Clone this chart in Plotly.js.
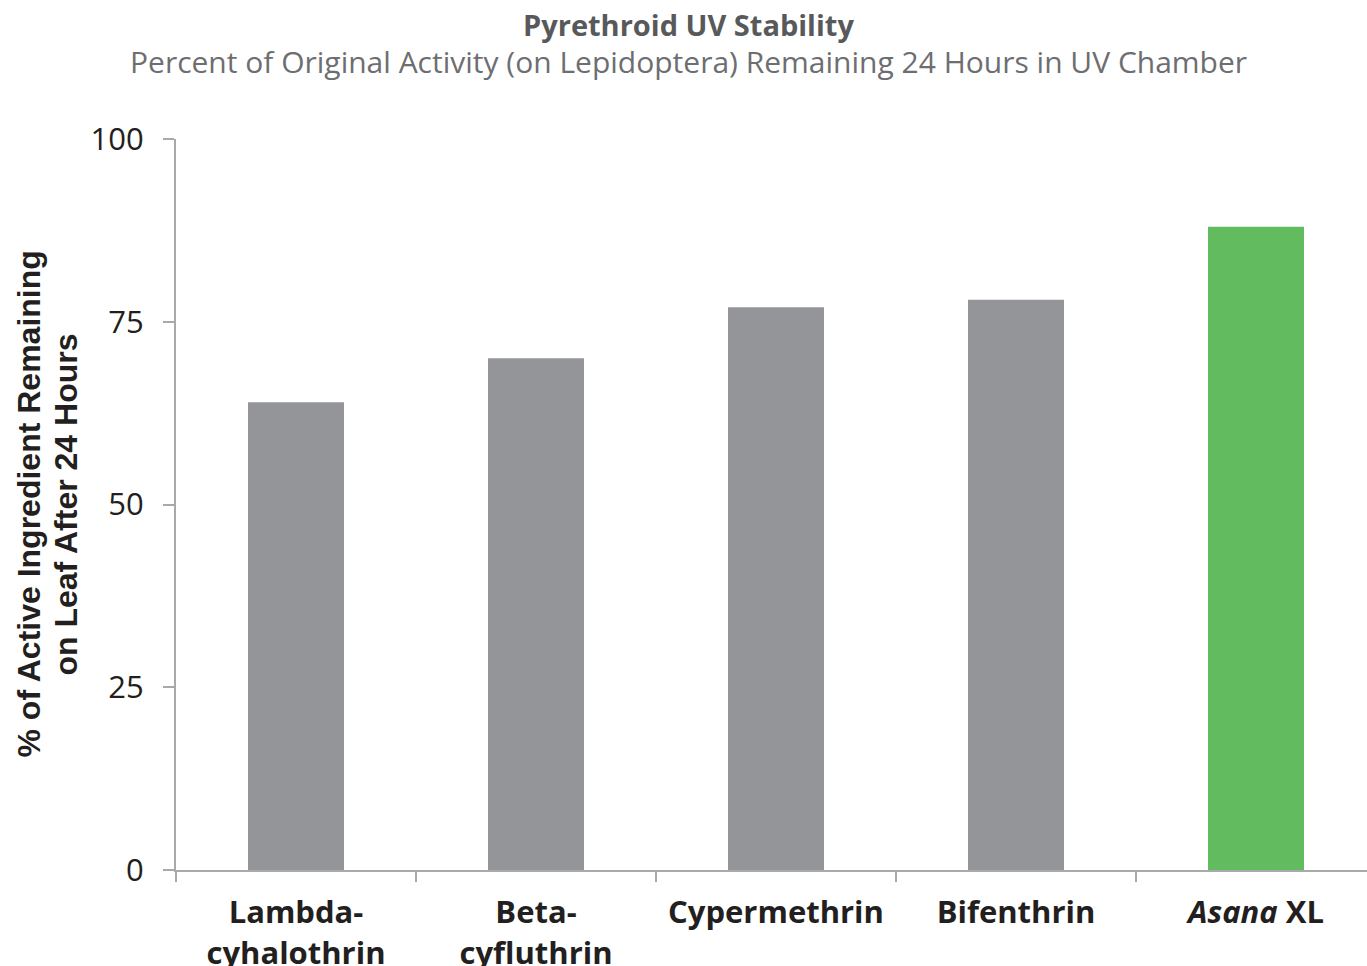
<!DOCTYPE html>
<html>
<head>
<meta charset="utf-8">
<script src="https://cdn.plot.ly/plotly-3.0.1.min.js"></script>
<style>
html,body{margin:0;padding:0;overflow:hidden;background:#fff;}
#chart{width:1376px;height:966px;}
</style>
</head>
<body>
<div id="chart"></div>
<script>
const categories = ["Lambda-<br>cyhalothrin", "Beta-<br>cyfluthrin", "Cypermethrin", "Bifenthrin", "<i>Asana</i> XL"];
const activityRemaining = [64, 70, 77, 78, 88];
const yTickValues = [0, 25, 50, 75, 100];
const highlighted = "<i>Asana</i> XL";
const titleText = "Pyrethroid UV Stability";
const subtitleText = "Percent of Original Activity (on Lepidoptera) Remaining 24 Hours in UV Chamber";
const yTitleLines = ["% of Active Ingredient Remaining", "on Leaf After 24 Hours"];

const GRAY = "#939598";
const GREEN = "#62bb5f";
const AXIS = "#a7a9ac";
const FONT = "'Open Sans', Lato, sans-serif";

const trace = {
  type: "bar",
  x: categories,
  y: activityRemaining,
  marker: {color: categories.map(c => c === highlighted ? GREEN : GRAY)},
  hoverinfo: "x+y"
};

const annotations = [
  {text: "<b>" + titleText + "</b>", xref: "paper", yref: "paper", x: 0.5, y: 1,
   xshift: -88, yshift: 115, xanchor: "center", yanchor: "middle", showarrow: false,
   font: {family: FONT, size: 29, color: "#58595b"}},
  {text: subtitleText, xref: "paper", yref: "paper", x: 0.5, y: 1,
   xshift: -88, yshift: 78, xanchor: "center", yanchor: "middle", showarrow: false,
   font: {family: FONT, size: 30, color: "#6d6e71"}},
  {text: "<b>" + yTitleLines[0] + "</b>", xref: "paper", yref: "paper", x: 0, y: 0.5,
   xshift: -148, xanchor: "center", yanchor: "middle", textangle: -90, showarrow: false,
   font: {family: "'Liberation Sans', Arial, sans-serif", size: 32, color: "#231f20"}},
  {text: "<b>" + yTitleLines[1] + "</b>", xref: "paper", yref: "paper", x: 0, y: 0.5,
   xshift: -111, xanchor: "center", yanchor: "middle", textangle: -90, showarrow: false,
   font: {family: "'Liberation Sans', Arial, sans-serif", size: 32, color: "#231f20"}}
];

const layout = {
  width: 1376,
  height: 966,
  margin: {l: 176, r: 0, t: 139, b: 96, pad: 0},
  paper_bgcolor: "#fff",
  plot_bgcolor: "#fff",
  bargap: 0.6,
  showlegend: false,
  font: {family: FONT, color: "#231f20"},
  annotations: annotations,
  shapes: [
    {type: "line", xref: "paper", yref: "paper", xsizemode: "pixel", xanchor: 0,
     x0: -11, x1: 0, y0: 0, y1: 0, line: {color: AXIS, width: 2}}
  ],
  xaxis: {
    type: "category",
    showline: true,
    linecolor: AXIS,
    linewidth: 2,
    ticks: "outside",
    tickson: "boundaries",
    ticklen: 10,
    tickwidth: 2,
    tickcolor: AXIS,
    showgrid: false,
    ticklabelstandoff: 14,
    tickfont: {family: FONT, size: 31, weight: "bold", color: "#231f20"},
    fixedrange: true
  },
  yaxis: {
    range: [0, 100],
    tickvals: yTickValues,
    ticktext: yTickValues.map(String),
    showline: true,
    linecolor: AXIS,
    linewidth: 2,
    ticks: "outside",
    ticklen: 11,
    tickwidth: 2,
    tickcolor: AXIS,
    showgrid: false,
    zeroline: false,
    ticklabelstandoff: 13,
    tickfont: {family: FONT, size: 31, color: "#231f20"},
    fixedrange: true
  }
};

Plotly.newPlot("chart", [trace], layout, {displayModeBar: false, staticPlot: true});
</script>
</body>
</html>
